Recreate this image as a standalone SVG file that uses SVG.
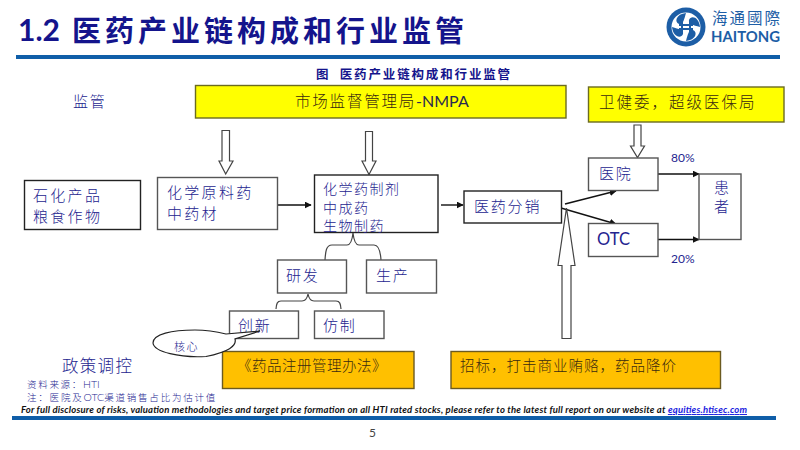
<svg xmlns="http://www.w3.org/2000/svg" width="800" height="450" viewBox="0 0 800 450">
<defs>
<style>
text{font-family:"Noto Sans CJK SC","Noto Sans",sans-serif;fill:#24248f}
.latin{font-family:"Lato","Noto Sans","Noto Sans CJK SC",sans-serif}
.l{font-size:15px;letter-spacing:1.8px;font-weight:300}
.dark{fill:#3a2a10;font-size:14.5px;letter-spacing:1px;font-weight:300}
.box{fill:#fff;stroke:#555;stroke-width:1.4}
.yel{fill:#ffff00;stroke:#6b6b20;stroke-width:1.4}
.ora{fill:#ffc000;stroke:#6b5a20;stroke-width:1.4}
.hollow{fill:#fff;stroke:#444;stroke-width:1.2}
.con{fill:none;stroke:#111;stroke-width:1.4}
.brace{fill:none;stroke:#444;stroke-width:1.2}
</style>
<marker id="ah" viewBox="0 0 10 10" refX="9" refY="5" markerWidth="7" markerHeight="7" markerUnits="userSpaceOnUse" orient="auto"><path d="M0 0L10 5L0 10Z" fill="#111"/></marker>
</defs>
<rect width="800" height="450" fill="#fff"/>
<g id="header">
<text x="18" y="41" class="latin" style="font-size:30px;font-weight:700;fill:#14148c">1.2</text>
<text x="72" y="42" style="font-size:29px;font-weight:700;fill:#14148c;letter-spacing:4px">医药产业链构成和行业监管</text>
<rect x="16" y="55" width="764" height="4" fill="#0f5ea8"/>
<text x="316" y="79" style="font-size:12.5px;font-weight:700;fill:#14148c;letter-spacing:1.85px" xml:space="preserve">图  医药产业链构成和行业监管</text>
</g>
<g id="logo">
<circle cx="686" cy="27" r="19.5" fill="#1d5ea6"/>
<circle cx="686" cy="27" r="14.5" fill="#fff"/>
<path d="M686 13C676 14 674 22 679 24C683 25 684 20 686 13ZM700 27C699 17 691 15 689 20C688 24 693 25 700 27ZM686 41C696 40 698 32 693 30C689 29 688 34 686 41ZM672 27C673 37 681 39 683 34C684 30 679 29 672 27Z" fill="#1d5ea6"/>
<path d="M682 21V33M690 21V33M679 25H693M679 29H693" stroke="#1d5ea6" stroke-width="2" fill="none"/>
<text x="712" y="24" textLength="68" style="font-size:15.5px;fill:#1d5ea6">海通國際</text>
<text x="711" y="42" class="latin" textLength="69" lengthAdjust="spacingAndGlyphs" style="font-size:16px;font-weight:700;fill:#1d5ea6">HAITONG</text>
</g>
<g id="label-jianguan"><text x="73" y="107" class="l" style="letter-spacing:1.8px">监管</text></g>
<g id="label-zhengce"><text x="62" y="372" style="font-size:16.5px;letter-spacing:1.300px;font-weight:300">政策调控</text></g>

<g id="connectors">
<path class="con" d="M274 205H311" marker-end="url(#ah)"/>
<path class="con" d="M441 205H463" marker-end="url(#ah)"/>
<path class="con" d="M565 204L616 191" marker-end="url(#ah)"/>
<path class="con" d="M561 208L616 224" marker-end="url(#ah)"/>
<path class="con" d="M658 174H699" marker-end="url(#ah)"/>
<path class="con" d="M658 239.500H699" marker-end="url(#ah)"/>
<path class="hollow" d="M222 130.500H229.500V161H233L225.700 174L219 161H222Z"/>
<path class="hollow" d="M365.500 131.500H372.500V161H376L369 174.500L362 161H365.500Z"/>
<path class="hollow" d="M634 125H641V146H644.500L637.500 157.500L630.500 146H634Z"/>
<path class="hollow" d="M562 338.500V265.500H558L566.500 208L575 265.500H571V338.500Z"/>
<path class="brace" d="M325 260C325.500 252 326 245 332 245H347C350 245 352 242 353 233C354 242 356 245 359 245H374C379 245 380.500 252 381 260"/>
<path class="brace" d="M276 309C276.500 304 277 301 281 301H302C305 301 307 299 308 294C309 299 311 301 314 301H336C340 301 340.500 304 341 309"/>
</g>

<g id="n-nmpa"><rect class="yel" x="195.500" y="85.500" width="370.500" height="32.500"/><text x="295" y="107" class="l" style="fill:#3a2a10;font-size:15.500px">市场监督管理局<tspan class="latin" style="fill:#2a2a50;letter-spacing:0;font-size:16px;font-weight:400">-NMPA</tspan></text></g>
<g id="n-nhc"><rect class="yel" x="588.500" y="87" width="195.500" height="35"/><text x="599" y="108" class="l" style="fill:#3a2a10;font-size:15.500px;letter-spacing:2px">卫健委，超级医保局</text></g>
<g id="n-raw"><rect class="box" style="stroke:#222" x="24.500" y="180.500" width="116" height="49"/><text x="33" y="201" class="l" style="letter-spacing:2.300px">石化产品</text><text x="33" y="222" class="l" style="letter-spacing:2.300px">粮食作物</text></g>
<g id="n-api"><rect class="box" x="157.500" y="177.500" width="120" height="52"/><text x="167" y="198" class="l" style="letter-spacing:2.300px">化学原料药</text><text x="167" y="219" class="l" style="letter-spacing:2.300px">中药材</text></g>
<g id="n-drug"><rect class="box" style="stroke:#222" x="314.500" y="175" width="123.500" height="57.500"/><text x="323" y="194" class="l" style="font-size:14px;letter-spacing:1.500px">化学药制剂</text><text x="323" y="212.500" class="l" style="font-size:14px;letter-spacing:1.500px">中成药</text><text x="323" y="231" class="l" style="font-size:14px;letter-spacing:1.500px">生物制药</text></g>
<g id="n-dist"><rect class="box" style="stroke:#222" x="464" y="191" width="97.500" height="32"/><text x="474" y="211.500" class="l">医药分销</text></g>
<g id="n-hosp"><rect class="box" x="588.500" y="158" width="69.500" height="32.500"/><text x="599" y="179" class="l">医院</text></g>
<g id="n-otc"><rect class="box" x="588.500" y="223.500" width="69.500" height="33"/><text x="597" y="245" class="latin" style="font-size:16.500px">OTC</text></g>
<g id="n-patient"><rect class="box" x="699" y="174" width="42" height="65.500"/><text x="714" y="193" class="l">患</text><text x="714" y="212" class="l">者</text></g>
<g id="label-80"><text x="671" y="162" class="latin" style="font-size:12px">80%</text></g>
<g id="label-20"><text x="671" y="263" class="latin" style="font-size:12px">20%</text></g>
<g id="n-rd"><rect class="box" x="277.500" y="260" width="69" height="33"/><text x="286" y="281" class="l">研发</text></g>
<g id="n-prod"><rect class="box" x="366.500" y="260" width="70" height="33"/><text x="376" y="281" class="l">生产</text></g>
<g id="n-innov"><rect class="box" x="229.500" y="311" width="69" height="27.500"/><text x="238" y="331" class="l">创新</text></g>
<g id="n-generic"><rect class="box" x="314.500" y="311" width="69.500" height="27.500"/><text x="323" y="331" class="l">仿制</text></g>
<g id="n-reg"><rect class="ora" x="222.500" y="351.500" width="191.500" height="37"/><text x="237" y="371" class="dark" style="letter-spacing:.5px">《药品注册管理办法》</text></g>
<g id="n-bid"><rect class="ora" x="451" y="351.500" width="269.500" height="37"/><text x="460" y="371" class="dark">招标，打击商业贿赂，药品降价</text></g>
<g id="n-core"><path d="M260 331L235 339C237 346 228 352 206 356.500C180 358 154 352 153 343C153 334 172 330 195 330C210 330 218 332 226 334Z" fill="#fff" stroke="#222" stroke-width="1.200"/><text x="174" y="351" style="font-size:11px;letter-spacing:1.500px;font-weight:300">核心</text></g>

<g id="footer">
<text x="27" y="387.500" style="font-size:9.500px;letter-spacing:1.700px;font-weight:300">资料来源：<tspan class="latin" style="letter-spacing:0;font-size:10.500px">HTI</tspan></text>
<text x="27" y="400.500" style="font-size:9.500px;letter-spacing:1.800px;font-weight:300">注：医院及<tspan class="latin" style="letter-spacing:0;font-size:10.500px">OTC</tspan>渠道销售占比为估计值</text>
<text x="21" y="413" class="latin" style="font-size:9.500px;font-weight:700;font-style:italic;fill:#111" textLength="726" lengthAdjust="spacing">For full disclosure of risks, valuation methodologies and target price formation on all HTI rated stocks, please refer to the latest full report on our website at <tspan style="fill:#1a1ae0;text-decoration:underline">equities.htisec.com</tspan></text>
<rect x="12" y="416" width="764" height="4" fill="#0f5ea8"/>
<text x="369" y="437" class="latin" style="font-size:12px;fill:#444">5</text>
</g>
</svg>
